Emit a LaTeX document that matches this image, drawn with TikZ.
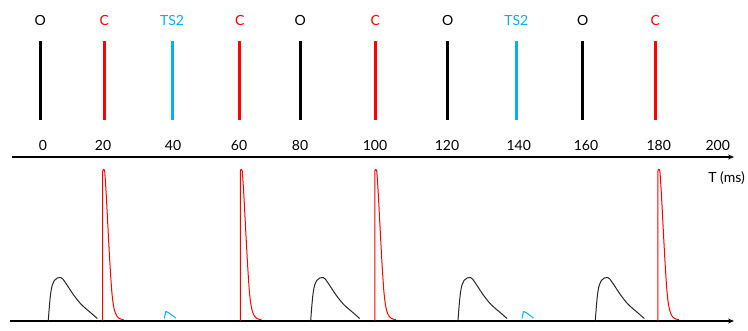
\documentclass[tikz,border=0pt]{standalone}
\usepackage{fontspec}
\setmainfont{Lato}
\usetikzlibrary{arrows.meta}
\definecolor{cred}{RGB}{255,0,0}
\definecolor{cblue}{RGB}{0,176,240}
\begin{document}
\begin{tikzpicture}[x=1pt,y=-1pt,
  lbl/.style={font=\fontsize{14}{16}\selectfont, inner sep=0pt, anchor=base},
  tickline/.style={line width=3pt},
  axisline/.style={line width=1.6pt, -{Stealth[length=6pt,width=5pt]}},
  curve/.style={line width=1pt, line join=round},
  spike/.pic={\draw[curve,cred] (0,0) -- (0,-149) .. controls (0.3,-152) and (1.5,-152) .. (2,-149)
      .. controls (4,-125) and (6,-70) .. (9,-30) .. controls (11,-8) and (13,-1) .. (21,-1);},
  bump/.pic={\draw[curve,black!85] plot[smooth,tension=0.6] coordinates {(0,0) (2.5,-28) (6,-40) (12.4,-43) (17,-38) (25,-26) (33,-16) (41,-9) (49,-2)};},
  blip/.pic={\draw[curve,cblue] (0,-2) -- (1.5,-9) -- (4,-8) -- (11.5,-2.5);}
]
\useasboundingbox (0,0) rectangle (748,330);

% top labels and lines
\foreach \x/\t/\c [count=\i] in {40.3/O/black,104.3/C/cred,172/TS2/cblue,239.7/C/cred,300.3/O/black,
    375.3/C/cred,447.7/O/black,516.3/TS2/cblue,582.7/O/black,655.3/C/cred}{
  \node[lbl,text=\c] (l\i) at (\x,25) {\t};
  \coordinate (t\i) at (\x,41);
  \coordinate (b\i) at (\x,120);
  \draw[tickline,\c] (t\i) -- (b\i);
}

% numbers
\foreach \x/\t [count=\i] in {43/0,103/20,173/40,239/60,300/80,375/100,447/120,518.7/140,586/160,658.7/180,717.7/200}{
  \node[lbl] (n\i) at (\x,150.7) {\t};
}

% time axis
\coordinate (a1) at (12,157);
\coordinate (a2) at (734,157);
\draw[axisline] (a1) -- (a2);
\node[lbl,anchor=base east] (tms) at (745,182) {T (ms)};

% bottom axis
\coordinate (c1) at (10,321);
\coordinate (c2) at (734,321);
\draw[axisline] (c1) -- (c2);

% curves
\foreach \x in {102.7,240.3,374.8,657.9}{ \pic at (\x,320.5) {spike}; }
\foreach \x in {48.3,310.7,458,595.3}{ \pic at (\x,320.5) {bump}; }
\foreach \x in {164.3,522}{ \pic at (\x,320.5) {blip}; }
\end{tikzpicture}
\end{document}
